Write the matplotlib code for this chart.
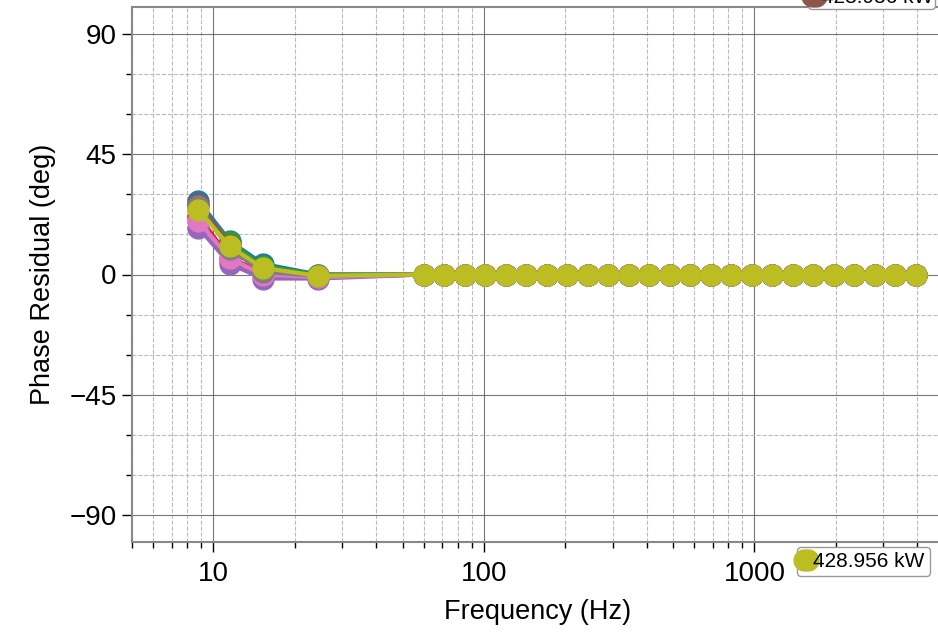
import numpy as np
import matplotlib
matplotlib.use("Agg")
import matplotlib.pyplot as plt
from matplotlib.ticker import FormatStrFormatter, NullFormatter

plt.rcParams['font.family'] = ['Liberation Sans', 'DejaVu Sans']

# Frequencies (Hz)
freq_low = [8.8, 11.5, 15.2, 24.3]
freq_high = [60, 71.4, 85.0, 101.2, 120.5, 143.5, 170.9, 203.4, 242.2, 288.4,
             343.3, 408.8, 486.7, 579.5, 690, 821.5, 978, 1164, 1386, 1650,
             1965, 2340, 2786, 3317, 3950]
freqs = freq_low + freq_high

# Phase residuals (deg) at the four low frequencies; ~0 for the rest
low_residuals = {
    'C0': [27.5, 12.5, 4.0, 0.0],
    'C1': [21.0, 5.0, 0.0, -1.0],
    'C2': [26.0, 12.0, 3.0, 0.0],
    'C3': [22.0, 6.0, 1.0, -1.0],
    'C4': [17.5, 4.0, -1.5, -1.5],
    'C5': [26.5, 11.0, 2.0, -0.5],
    'C6': [20.0, 6.0, 0.0, -1.0],
    'C7': [25.5, 9.5, 1.0, -0.5],
    'C8': [24.0, 10.5, 2.5, -0.5],
}
high_residuals = [0.0] * len(freq_high)

series_labels = ['428.956 kW'] * 9

fig = plt.figure(figsize=(9.38, 6.38), dpi=100)
ax = fig.add_axes([132/938, 1 - 542/638, (943.5 - 132)/938, (542 - 7)/638])

for (color, low), lab in zip(low_residuals.items(), series_labels):
    ax.plot(freqs, low + high_residuals, '-o', color=color, lw=3,
            markersize=15, label=lab)

ax.set_xscale('log')
ax.set_xlim(5, 5000)
ax.set_ylim(-100, 100)
ax.set_yticks([-90, -45, 0, 45, 90])
ax.set_yticks(np.arange(-90, 91, 15), minor=True)
ax.xaxis.set_major_formatter(FormatStrFormatter('%g'))
ax.xaxis.set_minor_formatter(NullFormatter())

ax.grid(True, which='major', color='#555555', lw=0.8, alpha=0.8)
ax.grid(True, which='minor', color='#bbbbbb', lw=0.8, ls='--')

for s in ax.spines.values():
    s.set_color('#888888')
    s.set_linewidth(1.5)

ax.tick_params(axis='both', which='major', labelsize=20, length=7, width=1, pad=4)
ax.tick_params(axis='x', which='major', pad=7)
ax.tick_params(axis='both', which='minor', length=4, width=1)

ax.set_xlabel('Frequency (Hz)', fontsize=19.5, labelpad=8)
ax.set_ylabel('Phase Residual (deg)', fontsize=19.5, labelpad=10)

handles, labels = ax.get_legend_handles_labels()
leg_kw = dict(fontsize=15, numpoints=2, handlelength=0.4, handletextpad=0.15,
              borderaxespad=0, edgecolor='#999999', framealpha=1)
leg_top = fig.legend([handles[5]], [labels[5]], loc='lower right',
                     bbox_to_anchor=(935/938, 1 - 9/638), borderpad=0.1, **leg_kw)
leg_bot = fig.legend([handles[8]], [labels[8]], loc='upper right',
                     bbox_to_anchor=(930/938, 1 - 547/638), borderpad=0.25, **leg_kw)

fig.savefig('out.png', dpi=100)
